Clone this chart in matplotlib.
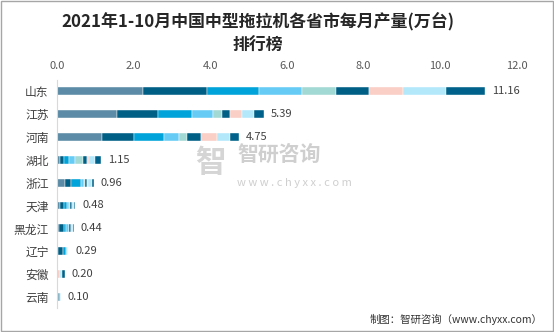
import matplotlib.pyplot as plt
import numpy as np
from matplotlib.patches import Rectangle

plt.rcParams['font.family'] = ['Noto Sans CJK SC', 'DejaVu Sans']

provinces = ['山东', '江苏', '河南', '湖北', '浙江', '天津', '黑龙江', '辽宁', '安徽', '云南']
totals = [11.16, 5.39, 4.75, 1.15, 0.96, 0.48, 0.44, 0.29, 0.20, 0.10]
months = ['1-2月', '3月', '4月', '5月', '6月', '7月', '8月', '9月', '10月']
# monthly output per province (万台)
shandong = [2.25, 1.66, 1.37, 1.12, 0.87, 0.87, 0.89, 1.13, 1.00]
jiangsu = [1.56, 1.08, 0.89, 0.55, 0.22, 0.22, 0.31, 0.30, 0.26]
henan = [1.18, 0.83, 0.77, 0.40, 0.21, 0.37, 0.41, 0.34, 0.24]
hubei = [0.07, 0.10, 0.14, 0.15, 0.22, 0.09, 0.06, 0.17, 0.15]
zhejiang = [0.20, 0.17, 0.25, 0.08, 0.04, 0.04, 0.04, 0.09, 0.05]
tianjin = [0.08, 0.10, 0.07, 0.06, 0.03, 0.04, 0.02, 0.05, 0.03]
heilongjiang = [0.06, 0.12, 0.06, 0.06, 0.02, 0.04, 0.01, 0.04, 0.03]
liaoning = [0.03, 0.12, 0.08, 0.04, 0.01, 0.01, 0.0, 0.0, 0.0]
anhui = [0.0, 0.0, 0.0, 0.0, 0.0, 0.0, 0.08, 0.04, 0.08]
yunnan = [0.03, 0.02, 0.03, 0.02, 0.0, 0.0, 0.0, 0.0, 0.0]
xticks = [0, 2, 4, 6, 8, 10, 12]

data = np.array([shandong, jiangsu, henan, hubei, zhejiang, tianjin,
                 heilongjiang, liaoning, anhui, yunnan])
colors = ['#5b8ba6', '#005f85', '#00a3da', '#66ccf5', '#a2d9d4',
          '#005f85', '#f9cfc6', '#b3e8fb', '#00628a']

fig = plt.figure(figsize=(5.54, 3.32), dpi=100)
ax = fig.add_axes([0.103, 0.071, 0.830, 0.689])

y = np.arange(len(provinces))
left = np.zeros(len(provinces))
for i in range(len(months)):
    ax.barh(y, data[:, i], left=left, height=0.34, color=colors[i],
            edgecolor='white', linewidth=0.3, label=months[i])
    left += data[:, i]

for yi, t in zip(y, totals):
    ax.text(t + 0.18, yi, f'{t:.2f}', va='center', ha='left', fontsize=8, color='#404040')

ax.set_xlim(0, 12)
ax.set_ylim(len(provinces) - 0.5, -0.5)
ax.set_xticks(xticks)
ax.set_xticklabels([f'{v:.1f}' for v in xticks])
ax.xaxis.tick_top()
ax.tick_params(axis='x', length=0, labelsize=8, labelcolor='#595959', pad=6)
ax.set_yticks(y)
ax.set_yticklabels(provinces)
ax.tick_params(axis='y', length=0, labelsize=8.5, labelcolor='#404040', pad=6)
for s in ['top', 'right', 'bottom']:
    ax.spines[s].set_visible(False)
ax.spines['left'].set_color('#d9d9d9')

fig.text(0.466, 0.935, '2021年1-10月中国中型拖拉机各省市每月产量(万台)', ha='center', va='center',
         fontsize=12.2, fontweight='bold', color='#262626')
fig.text(0.466, 0.862, '排行榜', ha='center', va='center',
         fontsize=12.2, fontweight='bold', color='#262626')

# watermark
fig.text(0.428, 0.535, '智研咨询', ha='left', va='center', fontsize=15, color='#cfcfcf', fontweight='bold')
fig.text(0.428, 0.45, 'w w w . c h y x x . c o m', ha='left', va='center', fontsize=8, color='#cfcfcf')
fig.text(0.352, 0.51, '智', ha='left', va='center', fontsize=22, color='#d5d5d5', fontweight='bold')

fig.text(0.980, 0.038, '制图：智研咨询（www.chyxx.com）', ha='right', va='center',
         fontsize=7.5, color='#333333')

fig.patches.append(Rectangle((0.001, 0.002), 0.997, 0.995, transform=fig.transFigure,
                             fill=False, edgecolor='#a6a6a6', linewidth=1))

fig.savefig('out.png', dpi=100)
